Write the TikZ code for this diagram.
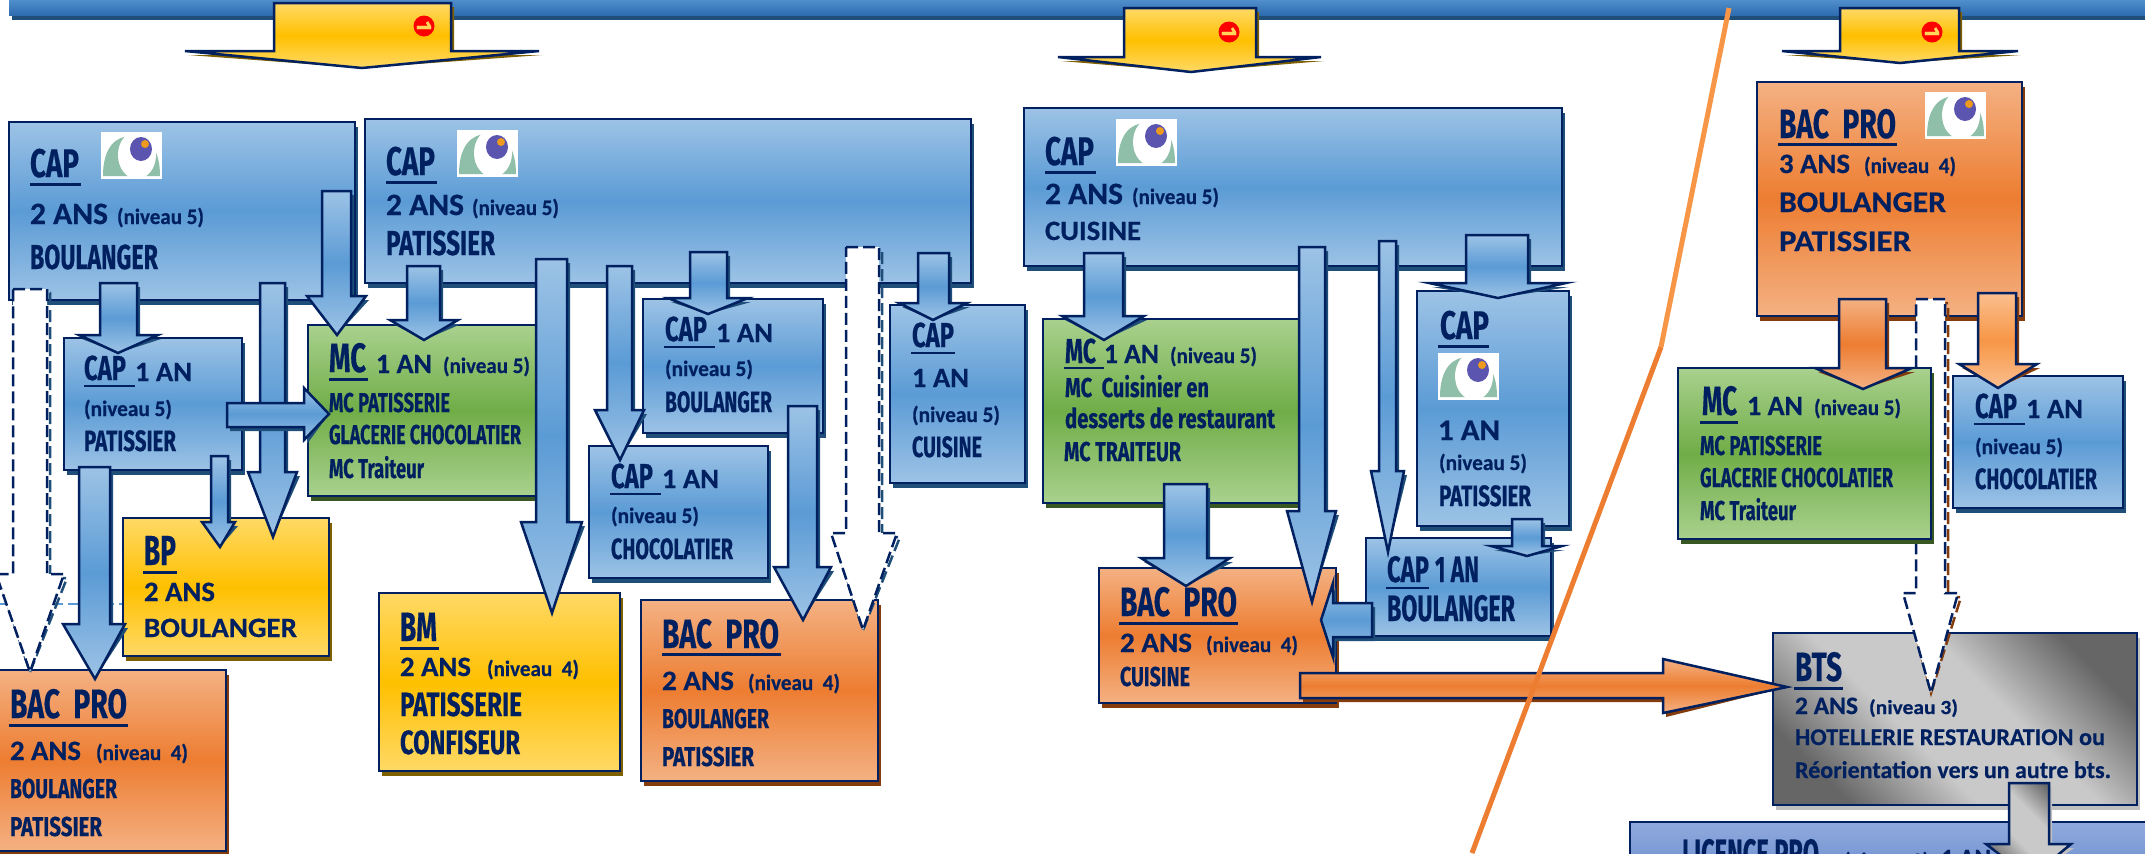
\documentclass[tikz,border=0pt]{standalone}
\usepackage{fontspec}
\usepackage{graphicx}
\usetikzlibrary{shapes.geometric}
\newfontfamily\agfont{Fira Sans}[BoldFeatures={FakeBold=0.5}]
\newfontfamily\cafont{Carlito}[BoldFeatures={FakeBold=0.5}]
\definecolor{navy}{HTML}{002060}
\definecolor{shB}{HTML}{1F4E79}
\definecolor{shO}{HTML}{843C0C}
\definecolor{shY}{HTML}{7F6000}
\definecolor{shG}{HTML}{385723}
\definecolor{shK}{HTML}{BFBFBF}
\definecolor{gdark}{HTML}{666666}
\definecolor{glight}{HTML}{C9C9C9}
\definecolor{bl1}{HTML}{9DC3E6}\definecolor{bl2}{HTML}{5B9BD5}
\definecolor{or1}{HTML}{F4B183}\definecolor{or2}{HTML}{ED7D31}
\definecolor{lo1}{HTML}{FBBF8F}\definecolor{lo2}{HTML}{F79646}
\definecolor{ye1}{HTML}{FFD966}\definecolor{ye2}{HTML}{FFC000}
\definecolor{gr1}{HTML}{A9D18E}\definecolor{gr2}{HTML}{70AD47}
\definecolor{li1}{HTML}{8FAADC}\definecolor{li2}{HTML}{6487CD}
\definecolor{bar1}{HTML}{5291CD}\definecolor{bar2}{HTML}{2E6CB0}
\definecolor{logoG}{HTML}{8FBFA8}\definecolor{logoP}{HTML}{5B55B0}\definecolor{logoO}{HTML}{ED9A1E}
\definecolor{oneY}{HTML}{FFD65A}
\pgfdeclareverticalshading{greydiag}{100bp}{color(0bp)=(gdark);color(25bp)=(gdark);color(42bp)=(glight);color(58bp)=(glight);color(75bp)=(gdark);color(100bp)=(gdark)}
\newlength\pxu \setlength\pxu{0.5pt}
\newcounter{tn}
\tikzset{
  lbl/.style={anchor=base west,inner sep=0pt,outer sep=0pt,text=navy},
  ln/.style={draw=navy,line width=1.25pt,line join=miter},
  blueS/.style={ln,top color=bl1,bottom color=bl1,middle color=bl2},
  orangeS/.style={ln,top color=or1,bottom color=or1,middle color=or2},
  lightO/.style={ln,top color=lo1,bottom color=lo1,middle color=lo2},
  yellowS/.style={ln,top color=ye1,bottom color=ye1,middle color=ye2},
  greenS/.style={ln,top color=gr1,bottom color=gr1,middle color=gr2},
  greyS/.style={ln,shading=greydiag,shading angle=-45},
  licS/.style={ln,top color=li1,bottom color=li1,middle color=li2},
  dashS/.style={draw=navy,line width=1.25pt,fill=white,dash pattern=on 6pt off 2.5pt},
  dshadB/.style={draw=shB,line width=1.25pt,dash pattern=on 6pt off 2.5pt},
  dshadO/.style={draw=shO,line width=1.25pt,dash pattern=on 6pt off 2.5pt},
  boxn/.style={anchor=north west,inner sep=0pt,outer sep=0pt}
}
% box: name, style, shadow, x1,y1,x2,y2
\newcommand\bx[7]{%
  \fill[#3] ({#4+2.5},{#5+5}) rectangle ({#6+2.5},{#7+5});
  \node[boxn,#2,minimum width={(#6-#4)*0.5pt},minimum height={(#7-#5)*0.5pt}] (#1) at (#4,#5) {};}
% general polygon arrow: style, shadow options, path
\newcommand\ba[3]{\path[#2,shift={(3,4)}] #3; \path[#1] #3;}
% vertical arrow: name,style,shadow,xL,xR,ytop,yshoulder,hL,hR,xtip,ytip
\newcommand\varr[4]{\def\aN{#1}\tikzset{aS/.style={#2},aD/.style={#3}}\def\aXL{#4}\varrB}
\newcommand\varrB[7]{%
  \coordinate (\aN) at (#6,#7);
  \ba{aS}{aD}{(\aXL,#2) -- (#1,#2) -- (#1,#3) -- (#5,#3) -- (\aN) -- (#4,#3) -- (\aXL,#3) -- cycle}}
% text: x,y,em,width,text
\newcommand\agt[5]{\stepcounter{tn}\node[lbl] (t\arabic{tn}) at (#1,#2) {\agfont\bfseries\fontsize{\fpeval{#3*0.525}}{\fpeval{#3*0.6}}\selectfont\resizebox{#4\pxu}{\height}{#5}};}
\newcommand\cat[5]{\stepcounter{tn}\node[lbl] (t\arabic{tn}) at (#1,#2) {\cafont\bfseries\fontsize{\fpeval{#3*0.5}}{\fpeval{#3*0.6}}\selectfont\resizebox{#4\pxu}{\height}{#5}};}
\newcommand\ulx[4]{\fill[navy] (#1,#2) rectangle ({#1+#3},{#2+#4});}
\newcommand\logo[2]{\begin{scope}[shift={(#1,#2)}]
  \fill[white] (0,0) rectangle (61,47);
  \begin{scope}
    \clip (0,0) rectangle (61,44);
    \fill[logoG] (2,44) .. controls (2,15) and (15,4) .. (30,4) .. controls (46,4) and (59,15) .. (59,44) -- cycle;
    \fill[white] (36,23) ellipse [x radius=19,y radius=24];
  \end{scope}
  \fill[logoP] (40,17) ellipse [x radius=11,y radius=12];
  \fill[logoO] (44,12) circle [radius=4];
\end{scope}}
\newcommand\noentry[3]{\node[circle,fill=red,inner sep=0pt,minimum size=10.5pt] (#1) at (#2,#3) {};
  \node[text=oneY,inner sep=0pt,rotate=-90,font=\agfont\bfseries\fontsize{10.5}{12}\selectfont] (#1-t) at (#2,#3) {1};}
\begin{document}
\begin{tikzpicture}[x=0.5pt,y=-0.5pt]
\useasboundingbox (0,0) rectangle (2145,853);
\clip (0,0) rectangle (2145,853);
% top band
\fill[shB] (12,0) rectangle (2145,20);
\path[top color=bar1,bottom color=bar2] (9,-1) rectangle (2145,15);
% yellow arrows
\varr{y1}{yellowS}{fill=shY}{274}{451}{3}{51}{185}{539}{362}{68}
\noentry{ne1}{424}{26}
\varr{y2}{yellowS}{fill=shY}{1124}{1256}{8}{57}{1058}{1321}{1191}{72}
\noentry{ne2}{1229}{32}
\varr{y3}{yellowS}{fill=shY}{1840}{1959}{8}{51}{1782}{2018}{1900}{63}
\noentry{ne3}{1932}{32}
% boxes
\draw[bl2,line width=1.2pt,dash pattern=on 6pt off 2.5pt] (0,604) -- (125,604);
\bx{capA}{blueS}{shB}{9}{122}{355}{300}
\bx{capB}{blueS}{shB}{365}{119}{971}{283}
\bx{capK}{blueS}{shB}{64}{338}{242}{470}
\bx{mcL}{greenS}{shG}{308}{325}{540}{496}
\bx{capD}{blueS}{shB}{643}{299}{823}{433}
\bx{capE}{blueS}{shB}{589}{446}{768}{578}
\bx{capF}{blueS}{shB}{890}{305}{1025}{483}
\bx{bacG}{orangeS}{shO}{641}{600}{878}{781}
\bx{bmH}{yellowS}{shY}{379}{593}{620}{771}
\bx{bpI}{yellowS}{shY}{123}{518}{329}{656}
\bx{bacJ}{orangeS}{shO}{-5}{670}{226}{851}
\bx{capC}{blueS}{shB}{1024}{108}{1562}{266}
\bx{mcM}{greenS}{shG}{1043}{319}{1300}{503}
\bx{bacN}{orangeS}{shO}{1099}{568}{1336}{703}
\bx{capP}{blueS}{shB}{1417}{291}{1569}{526}
\bx{capQ}{blueS}{shB}{1366}{538}{1551}{636}
\bx{bacR}{orangeS}{shO}{1757}{82}{2022}{316}
\bx{btsU}{greyS}{shK}{1773}{633}{2137}{805}
\bx{licV}{licS}{shB}{1630}{822}{2160}{960}
% logos
\logo{101}{132}\logo{457}{130}\logo{1116}{119}\logo{1438}{353}\logo{1925}{92}
% texts A
\agt{30}{177}{38}{49}{CAP}\ulx{30}{183}{51}{3}
\cat{30}{224}{31}{78}{2 ANS}\cat{117}{224}{22}{87}{(niveau 5)}
\agt{30}{269}{33}{128}{BOULANGER}
% B
\agt{386}{175}{38}{49}{CAP}\ulx{386}{181}{51}{3}
\cat{386}{215}{31}{78}{2 ANS}\cat{472}{215}{22}{87}{(niveau 5)}
\agt{386}{255}{33}{109}{PATISSIER}
% K
\agt{84}{380}{33}{42}{CAP}\ulx{84}{385}{51}{1.6}
\cat{135}{381}{28}{57}{1 AN}
\cat{84}{416}{22}{88}{(niveau 5)}
\agt{84}{451}{28}{92}{PATISSIER}
% L
\agt{329}{372}{39}{37}{MC}\ulx{329}{378}{39}{3}
\cat{376}{373}{28}{56}{1 AN}\cat{443}{373}{22}{87}{(niveau 5)}
\agt{329}{412}{26}{121}{MC PATISSERIE}
\agt{329}{444}{26}{192}{GLACERIE CHOCOLATIER}
\agt{329}{478}{26}{95}{MC Traiteur}
% I
\agt{144}{565}{40}{32}{BP}\ulx{143}{571}{34}{3}
\cat{144}{601}{28}{71}{2 ANS}
\cat{144}{637}{28}{153}{BOULANGER}
% J
\agt{10}{718}{39}{117}{BAC\ \ PRO}\ulx{9}{724}{119}{3}
\cat{10}{760}{28}{71}{2 ANS}\cat{96}{760}{22}{92}{(niveau\ \ 4)}
\agt{10}{798}{26}{107}{BOULANGER}
\agt{10}{836}{26}{92}{PATISSIER}
% H
\agt{400}{641}{39}{37}{BM}\ulx{400}{647}{39}{3}
\cat{400}{676}{28}{71}{2 ANS}\cat{487}{676}{22}{92}{(niveau\ \ 4)}
\agt{400}{716}{32}{122}{PATISSERIE}
\agt{400}{754}{32}{120}{CONFISEUR}
% D
\agt{665}{341}{33}{42}{CAP}\ulx{664}{346}{51}{1.6}
\cat{716}{342}{28}{57}{1 AN}
\cat{665}{376}{22}{88}{(niveau 5)}
\agt{665}{412}{28}{107}{BOULANGER}
% E
\agt{611}{488}{33}{42}{CAP}\ulx{610}{493}{51}{1.6}
\cat{662}{488}{28}{57}{1 AN}
\cat{611}{523}{22}{88}{(niveau 5)}
\agt{611}{559}{28}{122}{CHOCOLATIER}
% F
\agt{912}{347}{33}{42}{CAP}\ulx{911}{352}{44}{1.6}
\cat{912}{387}{28}{57}{1 AN}
\cat{912}{422}{22}{88}{(niveau 5)}
\agt{912}{457}{28}{70}{CUISINE}
% G
\agt{662}{648}{39}{117}{BAC\ \ PRO}\ulx{662}{653}{119}{3}
\cat{662}{690}{28}{72}{2 ANS}\cat{748}{690}{22}{92}{(niveau\ \ 4)}
\agt{662}{728}{26}{107}{BOULANGER}
\agt{662}{766}{26}{92}{PATISSIER}
% C
\agt{1045}{165}{38}{49}{CAP}\ulx{1045}{171}{51}{3}
\cat{1045}{204}{31}{78}{2 ANS}\cat{1132}{204}{22}{87}{(niveau 5)}
\cat{1045}{240}{28}{96}{CUISINE}
% M
\agt{1065}{363}{33}{31}{MC}\ulx{1064}{367}{40}{1.6}
\cat{1104}{363}{28}{55}{1 AN}\cat{1170}{363}{22}{87}{(niveau 5)}
\agt{1065}{397}{26}{144}{MC\ \ Cuisinier en}
\agt{1065}{428}{26}{210}{desserts de restaurant}
\agt{1064}{461}{26}{117}{MC TRAITEUR}
% N
\agt{1120}{616}{39}{117}{BAC\ \ PRO}\ulx{1119}{622}{119}{3}
\cat{1120}{652}{28}{72}{2 ANS}\cat{1206}{652}{22}{92}{(niveau\ \ 4)}
\agt{1120}{686}{26}{70}{CUISINE}
% P
\agt{1440}{339}{38}{49}{CAP}\ulx{1438}{345}{51}{3}
\cat{1438}{440}{30}{62}{1 AN}
\cat{1439}{470}{22}{88}{(niveau 5)}
\agt{1439}{506}{28}{92}{PATISSIER}
% Q
\agt{1387}{582}{35}{42}{CAP}\ulx{1386}{587}{43}{1.6}
\agt{1435}{582}{35}{44}{1 AN}
\agt{1387}{621}{35}{128}{BOULANGER}
% R
\agt{1779}{138}{39}{117}{BAC\ \ PRO}\ulx{1778}{143}{119}{3}
\cat{1779}{173}{28}{71}{3 ANS}\cat{1864}{173}{22}{92}{(niveau\ \ 4)}
\cat{1779}{212}{30}{167}{BOULANGER}
\cat{1779}{251}{30}{132}{PATISSIER}
% U
\agt{1795}{681}{39}{47}{BTS}\ulx{1794}{687}{49}{3}
\cat{1795}{714}{25}{63}{2 ANS}\cat{1869}{714}{20}{89}{(niveau 3)}
\cat{1795}{745}{24}{310}{HOTELLERIE RESTAURATION ou}
\cat{1795}{778}{24}{316}{Réorientation vers un autre bts.}
% V
\agt{1682}{868}{39}{137}{LICENCE PRO}
\cat{1844}{868}{22}{85}{(niveau 2)}
\cat{1941}{868}{28}{50}{1 AN}
% dashed arrow behind the green box on the right
\varr{dR}{dashS}{dshadO}{1916}{1945}{299}{593}{1903}{1958}{1931}{693}
\bx{mcS}{greenS}{shG}{1678}{368}{1931}{539}
\bx{capT}{blueS}{shB}{1953}{376}{2123}{508}
\agt{1702}{415}{39}{35}{MC}\ulx{1700}{421}{38}{3}
\cat{1747}{415}{28}{56}{1 AN}\cat{1814}{415}{22}{87}{(niveau 5)}
\agt{1700}{455}{26}{122}{MC PATISSERIE}
\agt{1700}{487}{26}{193}{GLACERIE CHOCOLATIER}
\agt{1700}{520}{26}{96}{MC Traiteur}
\agt{1975}{418}{33}{42}{CAP}\ulx{1974}{423}{51}{1.6}
\cat{2026}{418}{28}{57}{1 AN}
\cat{1975}{454}{22}{88}{(niveau 5)}
\agt{1975}{489}{28}{122}{CHOCOLATIER}
% block arrows
\varr{a1}{blueS}{fill=shB}{100}{137}{283}{335}{79}{158}{118}{353}
\varr{a2}{blueS}{fill=shB}{260}{285}{283}{472}{248}{297}{273}{537}
\varr{a3}{blueS}{fill=shB}{322}{351}{191}{296}{307}{366}{337}{335}
\varr{a4}{blueS}{fill=shB}{407}{440}{266}{320}{390}{458}{424}{340}
\varr{a5}{blueS}{fill=shB}{536}{567}{259}{522}{521}{582}{552}{613}
\varr{a6}{blueS}{fill=shB}{607}{632}{266}{410}{595}{644}{620}{460}
\varr{a7}{blueS}{fill=shB}{690}{727}{252}{298}{668}{748}{708}{314}
\varr{a8}{blueS}{fill=shB}{788}{817}{406}{567}{774}{831}{803}{620}
\varr{a9}{dashS}{dshadB}{846}{879}{247}{533}{831}{897}{863}{630}
\varr{a10}{blueS}{fill=shB}{918}{949}{253}{303}{899}{967}{933}{320}
\varr{a11}{dashS}{dshadB}{13}{47}{289}{574}{-4}{64}{30}{672}
\varr{a12}{blueS}{fill=shB}{79}{110}{467}{624}{63}{125}{95}{679}
\varr{a13}{blueS}{fill=shB}{211}{228}{456}{522}{202}{235}{220}{547}
\coordinate (a14) at (329,414);
\ba{blueS}{fill=shB}{(227,403) -- (304,403) -- (304,388) -- (a14) -- (304,440) -- (304,427) -- (227,427) -- cycle}
\varr{a15}{blueS}{fill=shB}{1084}{1123}{253}{316}{1062}{1144}{1104}{340}
\varr{a16}{blueS}{fill=shB}{1299}{1325}{247}{511}{1287}{1336}{1312}{602}
\varr{a17}{blueS}{fill=shB}{1379}{1396}{241}{471}{1371}{1404}{1388}{552}
\varr{a18}{blueS}{fill=shB}{1466}{1528}{235}{283}{1429}{1566}{1498}{298}
\varr{a19}{blueS}{fill=shB}{1512}{1542}{519}{546}{1491}{1562}{1527}{556}
\varr{a20}{blueS}{fill=shB}{1164}{1207}{484}{558}{1141}{1230}{1186}{586}
\coordinate (a21) at (1321,620);
\ba{blueS}{fill=shB}{(1372,603) -- (1333,603) -- (1333,583) -- (a21) -- (1333,657) -- (1333,637) -- (1372,637) -- cycle}
\coordinate (a22) at (1787,687);
\ba{orangeS}{fill=shO}{(1300,673) -- (1663,673) -- (1663,659) -- (a22) -- (1663,713) -- (1663,698) -- (1300,698) -- cycle}
\varr{a23}{orangeS}{fill=shO}{1839}{1886}{299}{368}{1815}{1912}{1863}{389}
\varr{a25}{lightO}{fill=shO}{1978}{2016}{293}{364}{1959}{2037}{1998}{388}
\varr{a26}{greyS}{fill=shK}{2009}{2049}{783}{844}{1986}{2071}{2030}{878}
% separator
\draw[lo2,line width=2.5pt] (1729,8) -- (1661,347);
\draw[or2,line width=2.5pt] (1661,347) -- (1472,853);
\end{tikzpicture}
\end{document}
